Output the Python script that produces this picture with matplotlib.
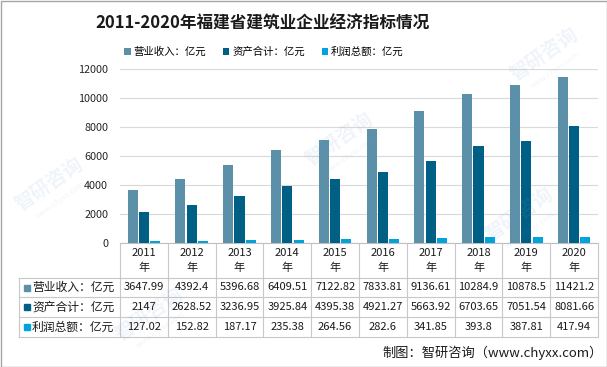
import matplotlib
matplotlib.use('Agg')
import matplotlib.pyplot as plt
from matplotlib.transforms import blended_transform_factory
from matplotlib.patches import Rectangle, Patch
import numpy as np

plt.rcParams['font.family'] = ['Noto Sans CJK SC', 'DejaVu Sans']

title = '2011-2020年福建省建筑业企业经济指标情况'
years = ['2011', '2012', '2013', '2014', '2015', '2016', '2017', '2018', '2019', '2020']
revenue = [3647.99, 4392.4, 5396.68, 6409.51, 7122.82, 7833.81, 9136.61, 10284.9, 10878.5, 11421.2]
assets = [2147, 2628.52, 3236.95, 3925.84, 4395.38, 4921.27, 5663.92, 6703.65, 7051.54, 8081.66]
profit = [127.02, 152.82, 187.17, 235.38, 264.56, 282.6, 341.85, 393.8, 387.81, 417.94]
series_names = ['营业收入：亿元', '资产合计：亿元', '利润总额：亿元']
value_labels = [
    ['3647.99', '4392.4', '5396.68', '6409.51', '7122.82', '7833.81', '9136.61', '10284.9', '10878.5', '11421.2'],
    ['2147', '2628.52', '3236.95', '3925.84', '4395.38', '4921.27', '5663.92', '6703.65', '7051.54', '8081.66'],
    ['127.02', '152.82', '187.17', '235.38', '264.56', '282.6', '341.85', '393.8', '387.81', '417.94'],
]
yticks = [0, 2000, 4000, 6000, 8000, 10000, 12000]
footer = '制图：智研咨询（www.chyxx.com）'

colors = ['#5c8fa8', '#005f85', '#00a3db']
W, H = 607, 367
fig = plt.figure(figsize=(W / 100, H / 100), dpi=100)

# main bar axes
ax = fig.add_axes([120 / W, 1 - 243 / H, (598 - 120) / W, (243 - 69) / H])
x = np.arange(len(years))
bw = 0.21
for i, (vals, c) in enumerate(zip([revenue, assets, profit], colors)):
    ax.bar(x + (i - 1) * 0.235, vals, bw, color=c, zorder=3)
ax.set_xlim(-0.5, len(years) - 0.5)
ax.set_ylim(0, 12000)
ax.set_yticks(yticks)
ax.set_yticklabels([str(t) for t in yticks], fontsize=7.8, color='#262626')
ax.tick_params(axis='y', length=0, pad=8.5)
ax.set_xticks([])
ax.grid(axis='y', color='#d9d9d9', lw=0.8, zorder=0)
for s in ['top', 'right', 'left']:
    ax.spines[s].set_visible(False)
ax.spines['bottom'].set_color('#bfbfbf')
ax.spines['bottom'].set_linewidth(0.8)
ax.patch.set_alpha(0)

# overlay axes in pixel coordinates
ov = fig.add_axes([0, 0, 1, 1], zorder=5)
ov.set_xlim(0, W)
ov.set_ylim(H, 0)
ov.axis('off')
ov.patch.set_alpha(0)
bt = blended_transform_factory(ax.transData, ov.transData)

# faint watermarks
wm = [(340, 140), (50, 185), (150, 315), (520, 215), (545, 55)]
for (wx, wy) in wm:
    ov.text(wx, wy, '智研咨询', fontsize=14, rotation=35, color='#6f9fd0', alpha=0.11,
            ha='center', va='center', fontweight='bold')
    ov.text(wx + 10, wy + 15, 'www.chyxx.com', fontsize=5.5, rotation=35, color='#6f9fd0', alpha=0.11,
            ha='center', va='center')

# title
ov.text(262, 24, title, fontsize=12, fontweight='bold', ha='center', va='center', color='#1a1a1a')

# legend
handles = [Patch(facecolor=c, edgecolor='none') for c in colors]
fig.legend(handles, series_names, ncol=3, loc='center', bbox_to_anchor=(264 / W, 1 - 52 / H),
           frameon=False, fontsize=7.5, handlelength=0.6, handleheight=0.6, handletextpad=0.3,
           columnspacing=1.6)

# table
lc = '#c8c8c8'
n = len(years)
for k in range(n + 1):
    ov.plot([k - 0.5, k - 0.5], [243, 337], transform=bt, color=lc, lw=0.8)
ov.plot([19, 19], [278, 337], color=lc, lw=0.8)
for yy in [278, 297, 317, 337]:
    ov.plot([19, 598], [yy, yy], color=lc, lw=0.8)

for i, yr in enumerate(years):
    ov.text(i, 253, yr, transform=bt, fontsize=8, ha='center', va='center', color='#1a1a1a')
    ov.text(i, 268, '年', transform=bt, fontsize=8, ha='center', va='center', color='#1a1a1a')

row_y = [287.5, 307, 327]
for r, (name, labs, c) in enumerate(zip(series_names, value_labels, colors)):
    ov.add_patch(Rectangle((24, row_y[r] - 3), 6, 6, color=c))
    ov.text(32, row_y[r], name, fontsize=8.5, ha='left', va='center', color='#1a1a1a')
    for i, lab in enumerate(labs):
        ov.text(i, row_y[r], lab, transform=bt, fontsize=8, ha='center', va='center', color='#1a1a1a')

# footer
ov.text(603, 353, footer, fontsize=9.5, ha='right', va='center', color='#1a1a1a')

# border
ov.add_patch(Rectangle((0.5, 0.5), W - 1, H - 1, fill=False, edgecolor='#a6a6a6', lw=1))

fig.savefig('out.png', dpi=100)
